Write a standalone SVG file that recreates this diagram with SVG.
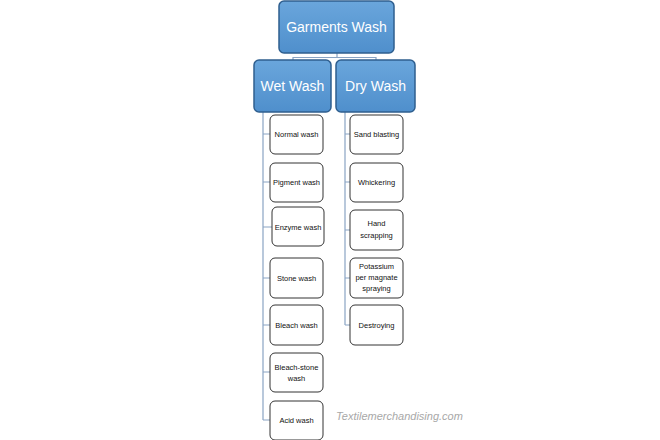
<svg xmlns="http://www.w3.org/2000/svg" width="660" height="440" viewBox="0 0 660 440">
<defs>
<linearGradient id="bg" x1="0" y1="0" x2="0" y2="1">
<stop offset="0" stop-color="#6aa6dc"/>
<stop offset="1" stop-color="#4f8fcc"/>
</linearGradient>
<style>
.top{fill:url(#bg);stroke:#2f5f8f;stroke-width:1.5}
.tt{fill:#fff;font-family:"Liberation Sans",Arial,sans-serif;font-size:14px;text-anchor:middle}
.ch{fill:#fff;stroke:#333;stroke-width:1}
.ct{fill:#111;font-family:"Liberation Sans",Arial,sans-serif;font-size:7.5px;text-anchor:middle}
.ln{fill:none;stroke:#8aa4c4;stroke-width:1.2}
</style>
</defs>
<rect width="660" height="440" fill="#fff"/>
<g id="connectors">
<path class="ln" d="M337 53V58M293 60V57.5H376V60"/>
<path class="ln" d="M263 112V420M263 134H270M263 182H270M263 227H272M263 278H270M263 325H270M263 372H270M263 420H270"/>
<path class="ln" d="M345 112V325M345 134H350M345 182H350M345 230H350M345 278H350M345 325H350"/>
</g>
<g id="garments-wash"><rect class="top" x="279" y="1" width="115" height="52" rx="5"/><text class="tt" x="336.5" y="32">Garments Wash</text></g>
<g id="wet-wash"><rect class="top" x="254" y="60" width="77" height="52" rx="5"/><text class="tt" x="292.5" y="91">Wet Wash</text></g>
<g id="dry-wash"><rect class="top" x="336" y="60" width="79" height="52" rx="5"/><text class="tt" x="375.5" y="91">Dry Wash</text></g>
<g id="normal-wash"><rect class="ch" x="270" y="115" width="53" height="39" rx="5"/><text class="ct" x="296.5" y="137">Normal wash</text></g>
<g id="pigment-wash"><rect class="ch" x="270" y="163" width="53" height="39" rx="5"/><text class="ct" x="296.5" y="185">Pigment wash</text></g>
<g id="enzyme-wash"><rect class="ch" x="272" y="207" width="52" height="39" rx="5"/><text class="ct" x="298" y="230">Enzyme wash</text></g>
<g id="stone-wash"><rect class="ch" x="270" y="258" width="53" height="40" rx="5"/><text class="ct" x="296.5" y="281">Stone wash</text></g>
<g id="bleach-wash"><rect class="ch" x="270" y="305" width="53" height="40" rx="5"/><text class="ct" x="296.5" y="328">Bleach wash</text></g>
<g id="bleach-stone-wash"><rect class="ch" x="270" y="353" width="53" height="39" rx="5"/><text class="ct" x="296.5" y="370">Bleach-stone</text><text class="ct" x="296.5" y="381">wash</text></g>
<g id="acid-wash"><rect class="ch" x="270" y="401" width="53" height="39" rx="5"/><text class="ct" x="296.5" y="423">Acid wash</text></g>
<g id="sand-blasting"><rect class="ch" x="350" y="115" width="53" height="39" rx="5"/><text class="ct" x="376.5" y="137">Sand blasting</text></g>
<g id="whickering"><rect class="ch" x="350" y="163" width="53" height="39" rx="5"/><text class="ct" x="376.5" y="185">Whickering</text></g>
<g id="hand-scrapping"><rect class="ch" x="350" y="210" width="53" height="40" rx="5"/><text class="ct" x="376.5" y="226">Hand</text><text class="ct" x="376.5" y="238">scrapping</text></g>
<g id="potassium"><rect class="ch" x="350" y="258" width="53" height="40" rx="5"/><text class="ct" x="376.5" y="269">Potassium</text><text class="ct" x="376.5" y="280">per magnate</text><text class="ct" x="376.5" y="291">spraying</text></g>
<g id="destroying"><rect class="ch" x="350" y="305" width="53" height="40" rx="5"/><text class="ct" x="376.5" y="328">Destroying</text></g>
<text x="399.5" y="420" font-family="'Liberation Sans',Arial,sans-serif" font-size="11" font-style="italic" fill="#a8a8a8" text-anchor="middle">Textilemerchandising.com</text>
</svg>
